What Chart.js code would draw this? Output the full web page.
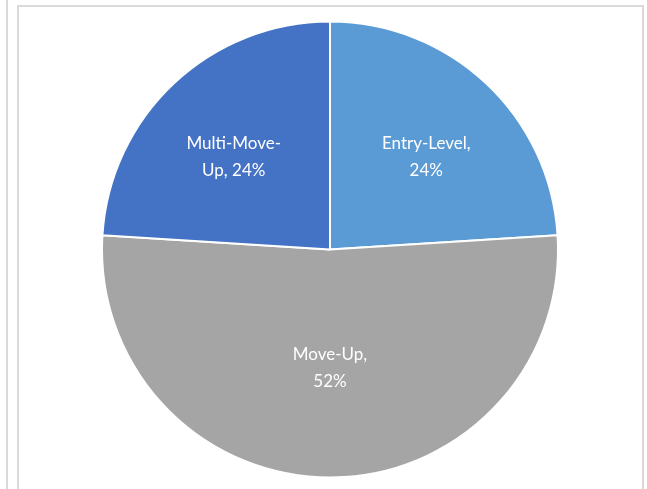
<!DOCTYPE html>
<html>
<head>
<meta charset="utf-8">
<script src="https://cdn.jsdelivr.net/npm/chart.js"></script>
<style>
  html, body { margin: 0; padding: 0; background: #fff; }
  #wrap { position: relative; width: 647px; height: 489px; overflow: hidden; }
  .ln { position: absolute; background: #d9d9d9; }
  canvas { position: absolute; left: 0; top: 0; }
</style>
</head>
<body>
<div id="wrap">
  <div class="ln" style="left:6px;top:0;width:2px;height:489px"></div>
  <div class="ln" style="left:17px;top:5px;width:2px;height:484px"></div>
  <div class="ln" style="left:17px;top:5px;width:627px;height:2px"></div>
  <div class="ln" style="left:642px;top:5px;width:2px;height:484px"></div>
  <canvas id="pieChart" width="647" height="489"></canvas>
</div>

<script>
  const categories = ["Entry-Level", "Move-Up", "Multi-Move-Up"];
  const shares = [24, 52, 24];
  const sliceColors = ["#5b9bd5", "#a5a5a5", "#4472c4"];
  // how each label is wrapped, like the original
  const labelLines = [["Entry-Level,", "24%"], ["Move-Up,", "52%"], ["Multi-Move-", "Up, 24%"]];

  const sliceLabels = {
    id: "sliceLabels",
    afterDatasetsDraw(chart) {
      const ctx = chart.ctx;
      const meta = chart.getDatasetMeta(0);
      const radii = [0.585, 0.52, 0.585];
      const nudge = [3, 0, -3]; // degrees, pushes the top labels a bit toward horizontal
      ctx.save();
      ctx.fillStyle = "#ffffff";
      ctx.font = "17px Lato";
      ctx.textAlign = "center";
      ctx.textBaseline = "middle";
      meta.data.forEach((arc, i) => {
        const mid = (arc.startAngle + arc.endAngle) / 2 + nudge[i] * Math.PI / 180;
        const r = arc.outerRadius * radii[i];
        const x = arc.x + Math.cos(mid) * r;
        const y = arc.y + Math.sin(mid) * r;
        const lines = labelLines[i];
        lines.forEach((t, k) => {
          ctx.fillText(t, x, y + (k - (lines.length - 1) / 2) * 27);
        });
      });
      ctx.restore();
    }
  };

  new Chart(document.getElementById("pieChart"), {
    type: "pie",
    data: {
      labels: categories,
      datasets: [{
        data: shares,
        backgroundColor: sliceColors,
        borderColor: "#ffffff",
        borderWidth: 2
      }]
    },
    options: {
      responsive: false,
      animation: false,
      layout: { padding: { left: 101, right: 88, top: 20, bottom: 10 } },
      plugins: {
        legend: { display: false },
        tooltip: { enabled: false }
      }
    },
    plugins: [sliceLabels]
  });
</script>
</body>
</html>
